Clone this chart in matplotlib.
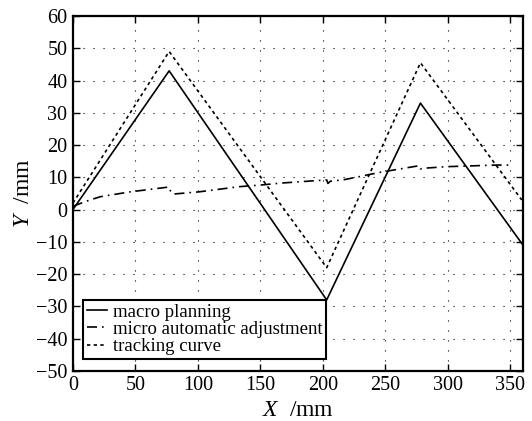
import matplotlib
matplotlib.use("Agg")
import matplotlib.pyplot as plt

plt.rcParams["font.family"] = ["Liberation Serif", "DejaVu Serif"]
plt.rcParams["mathtext.fontset"] = "custom"
plt.rcParams["mathtext.rm"] = "Liberation Serif"
plt.rcParams["mathtext.it"] = "Liberation Serif:italic"

# values
macro_x = [0, 77, 203, 278, 360]
macro_y = [0, 43, -28, 33, -11]

micro_x = [0, 10, 22, 46, 77, 78, 80, 101, 133, 150, 166, 203, 204, 206,
           216, 229, 245, 277, 278, 280, 299, 339, 352]
micro_y = [1, 2.5, 4, 5.5, 7, 5.8, 4.8, 5.5, 7.1, 7.6, 8.2, 9.2, 8.1, 8.8,
           9.2, 10.2, 11.5, 13.6, 12.6, 12.8, 13.3, 13.8, 13.8]

track_x = [0, 77, 203, 278, 359]
track_y = [2, 49, -18, 45.5, 3]

x_ticks = list(range(0, 351, 50))
y_ticks = list(range(-50, 61, 10))

fig = plt.figure(figsize=(5.32, 4.21), dpi=100)
ax = fig.add_axes([0.137, 0.119, 0.846, 0.843])

ax.plot(macro_x, macro_y, color="black", lw=1.2, ls="-", label="macro planning")
ax.plot(micro_x, micro_y, color="black", lw=1.2, dashes=(6, 3, 1, 3),
        label="micro automatic adjustment")
ax.plot(track_x, track_y, color="black", lw=1.2, ls=(0, (2, 2)),
        label="tracking curve")

ax.set_xlim(0, 360)
ax.set_ylim(-50, 60)
ax.set_xticks(x_ticks)
ax.set_yticks(y_ticks)
ax.grid(True, color="black", lw=0.8, ls=(0, (1, 8)))
ax.tick_params(direction="in", top=True, right=True, length=5, width=1,
               labelsize=14.5, pad=4)
for sp in ax.spines.values():
    sp.set_linewidth(1.6)

ax.set_xlabel("$X$  /mm", fontsize=17, labelpad=3)
ax.set_ylabel("$Y$  /mm", fontsize=17, labelpad=1)

leg = ax.legend(loc="lower left", bbox_to_anchor=(0.022, 0.034),
                borderaxespad=0, handlelength=1.1, handletextpad=0.3,
                labelspacing=0.0, borderpad=0.2, fontsize=13.5,
                fancybox=False, framealpha=1)
leg.get_frame().set_edgecolor("black")
leg.get_frame().set_linewidth(1.5)

fig.savefig("out.png", dpi=100)
